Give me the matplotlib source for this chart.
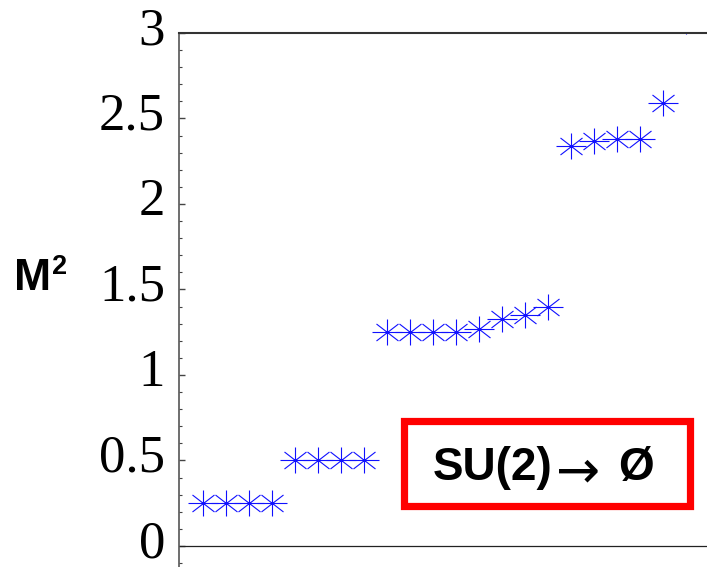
#!/usr/bin/env python
import sys
import numpy as np
import matplotlib
matplotlib.use('Agg')
import matplotlib.pyplot as plt
from matplotlib.path import Path
from matplotlib.patches import Rectangle
from matplotlib.transforms import ScaledTranslation

# data: squared masses, sorted, one point per state
state_index = list(range(22))
mass_sq = [0.25, 0.25, 0.25, 0.25,
           0.50, 0.50, 0.50, 0.50,
           1.25, 1.25, 1.25, 1.25, 1.27, 1.33, 1.35, 1.40,
           2.34, 2.37, 2.38, 2.38,
           2.59, 3.07]
y_ticks = [0, 0.5, 1, 1.5, 2, 2.5, 3]
y_ticklabels = ['0', '0.5', '1', '1.5', '2', '2.5', '3']
y_label = 'M'
y_label_exp = '2'
box_parts = ['SU(2)', '\u2192', '\u00d8']


def star_marker():
    # eight-armed asterisk as in the original plot
    verts = [(-15, 0), (15, 0), (0, -13), (0, 13),
             (-11, -8.5), (11, 8.5), (-11, 8.5), (11, -8.5)]
    codes = [Path.MOVETO, Path.LINETO] * 4
    return Path(verts, codes)


def create_figure(outfile):

    # Layout (pixels, dpi 100)
    fig_w, fig_h = 707, 567
    left = 179
    top = 33
    fig = plt.figure(figsize=(fig_w / 100, fig_h / 100), dpi=100)
    ax = fig.add_axes([left / fig_w, 0.0, 1 - left / fig_w, (fig_h - top) / fig_h])

    ax.plot(state_index, mass_sq, linestyle='none', marker=star_marker(),
            markersize=21.6, markeredgewidth=0.8, markeredgecolor='#1010ff',
            markerfacecolor='none')

    ax.set_xlim(-1.04, 21.9)
    ax.set_ylim(-0.123, 3.0)
    ax.axhline(0, color='#222222', lw=0.9)

    for side in ('right', 'bottom'):
        ax.spines[side].set_visible(False)
    ax.spines['top'].set_color('#333333')
    ax.spines['top'].set_linewidth(1.5)
    ax.spines['left'].set_color('#555555')
    ax.spines['left'].set_linewidth(1.2)

    ax.set_xticks([])
    ax.set_yticks(y_ticks)
    ax.set_yticklabels(y_ticklabels, family='Liberation Serif', fontsize=38)
    ax.set_yticks(np.arange(-0.1, 3.0, 0.1), minor=True)
    ax.tick_params(axis='y', which='major', direction='in', length=4,
                   width=1.0, color='#444444', pad=10)
    ax.tick_params(axis='y', which='minor', direction='in', length=2.5,
                   width=0.8, color='#444444')
    # labels sit a little above their ticks in the original
    shift = ScaledTranslation(0, 7 / 100, fig.dpi_scale_trans)
    for lab in ax.get_yticklabels():
        lab.set_transform(lab.get_transform() + shift)

    fig.text(14 / fig_w, 1 - 290 / fig_h, y_label, fontsize=32,
             fontweight='bold', family='Liberation Sans',
             ha='left', va='baseline')
    fig.text(52 / fig_w, 1 - 274 / fig_h, y_label_exp, fontsize=19.5,
             fontweight='bold', family='Liberation Sans',
             ha='left', va='baseline')

    # red box with the symmetry breaking pattern
    box = Rectangle((403.5 / fig_w, 1 - 505.5 / fig_h), 286 / fig_w, 85 / fig_h,
                    transform=fig.transFigure, fill=False,
                    edgecolor='#ff0000', linewidth=5.2)
    fig.patches.append(box)
    fig.text(433 / fig_w, 1 - 480 / fig_h, box_parts[0], fontsize=33,
             fontweight='bold', family='Liberation Sans',
             ha='left', va='baseline')
    fig.text(556 / fig_w, 1 - 487 / fig_h, box_parts[1], fontsize=38,
             family='DejaVu Sans', ha='left', va='baseline')
    fig.text(654 / fig_w, 1 - 480 / fig_h, box_parts[2], fontsize=33,
             fontweight='bold', family='Liberation Sans',
             ha='right', va='baseline')

    fig.savefig(outfile, dpi=100)


def main(argv=None):
    create_figure('out.png')

if __name__ == "__main__":
    sys.exit(main())
